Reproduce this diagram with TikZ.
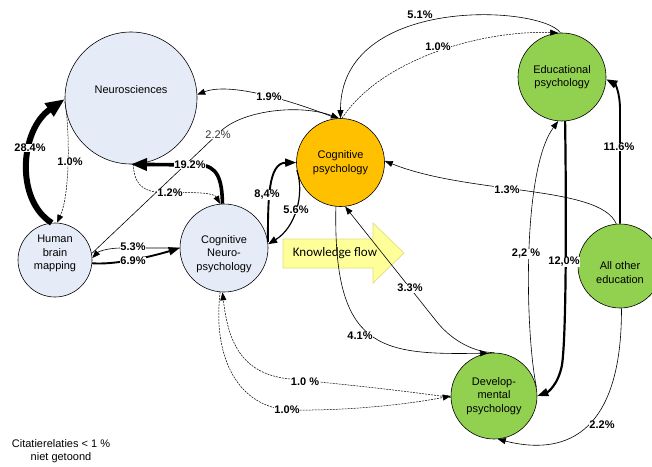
\documentclass[tikz,border=0pt]{standalone}
\usepackage{fontspec}
\setmainfont{Liberation Sans}
\newfontfamily\kffont{Carlito}
\usetikzlibrary{arrows.meta}
\definecolor{neuroblue}{RGB}{230,236,247}
\definecolor{cogorange}{RGB}{255,192,0}
\definecolor{edugreen}{RGB}{146,208,80}
\definecolor{flowfill}{RGB}{255,255,153}
\definecolor{flowedge}{RGB}{222,222,130}
\begin{document}
\begin{tikzpicture}[x=1pt,y=-1pt,
  field/.style={circle, draw=black, line width=0.6pt, inner sep=0pt},
  fieldtext/.style={font=\fontsize{11}{13.4}\selectfont, align=center, inner sep=0pt},
  neurofield/.style={field, fill=neuroblue},
  cogfield/.style={field, fill=cogorange},
  edufield/.style={field, fill=edugreen},
  cite/.style={draw, line width=0.6pt, -{Triangle[length=8pt,width=6pt]}},
  weak/.style={cite, line width=0.5pt, dash pattern=on 2pt off 1pt},
  medium/.style={draw, line width=1.2pt, -{Triangle[length=9pt,width=7pt]}},
  strong/.style={draw, line width=1.9pt, -{Triangle[length=11pt,width=8pt]}},
  heavy/.style={draw, line width=3.6pt, -{Triangle[length=16pt,width=12pt]}},
  huge/.style={draw, line width=6pt, -{Triangle[length=19pt,width=15pt]}},
  pct/.style={font=\bfseries\fontsize{11}{13}\selectfont, fill=white, inner sep=0.6pt},
  pctlight/.style={font=\fontsize{11}{13}\selectfont, text=black!80, fill=white, inner sep=0.6pt},
]
\path[use as bounding box] (0,0) rectangle (652,466);
\clip (0,0) rectangle (652,466);

% research fields
\node[neurofield, minimum size=132pt,
  label={[fieldtext, yshift=8.5pt]center:Neurosciences}] (neuro) at (131,98) {};
\node[neurofield, minimum size=74pt,
  label={[fieldtext, yshift=6.5pt]center:Human\\brain\\mapping}] (hbm) at (55,260) {};
\node[neurofield, minimum size=88pt,
  label={[fieldtext, yshift=-6pt]center:Cognitive\\Neuro-\\psychology}] (cnp) at (224,248) {};
\node[cogfield, minimum size=88pt,
  label={[fieldtext]center:Cognitive\\psychology}] (cog) at (340.5,162.5) {};
\node[edufield, minimum size=88pt,
  label={[fieldtext]center:Educational\\psychology}] (edu) at (562,77) {};
\node[edufield, minimum size=84pt,
  label={[fieldtext, yshift=-6.5pt]center:All other\\education}] (allo) at (620,266) {};
\node[edufield, minimum size=86pt,
  label={[fieldtext]center:Develop-\\mental\\psychology}] (dev) at (494,396) {};

% knowledge flow arrow
\filldraw[fill=flowfill, draw=flowedge, line width=0.7pt]
  (283,239) -- (373,239) -- (373,223) -- (404,253) -- (373,283) -- (373,268) -- (283,268) -- cycle;
\node[font=\kffont\fontsize{13}{15}\selectfont] (kflow) at (335,253) {Knowledge flow};

% citation relations
\draw[huge] (hbm.95) .. controls (15,200) and (20,130) .. (neuro.181);
\draw[weak] (neuro.183) .. controls (70,130) and (70,195) .. (hbm.87);
\draw[heavy] (cnp.92) .. controls (222,180) and (218,165) .. (198,165) -- (neuro.270);
\draw[weak] (neuro.272) .. controls (134,190) and (150,193) .. (170,193)
  .. controls (198,192) and (214,193) .. (cnp.95);
\draw[cite] (hbm.10) -- (222,130) .. controls (245,110) and (300,104) .. (cog.92);
\draw[cite] (cog.95) .. controls (290,100) and (230,82) .. (neuro.3);
\draw[strong] (cnp.8) .. controls (268,200) and (268,163) .. (cog.180);
\draw[medium] (cog.190) .. controls (305,195) and (295,228) .. (cnp.5);
\draw[strong] (hbm.-5) .. controls (115,265) and (150,257) .. (cnp.180);
\draw[cite] (cnp.180) -- (122,248) .. controls (106,248) and (98,252) .. (hbm.3);
\draw[cite] (edu.92) .. controls (540,5) and (340,-5) .. (cog.90);
\draw[weak] (cog.88) .. controls (380,60) and (480,30) .. (edu.95);
\draw[cite] (allo.95) .. controls (600,185) and (470,195) .. (cog.2);
\draw[strong] (allo.90) -- (620,110) .. controls (620,92) and (615,84) .. (edu.-3);
\draw[strong, line width=2.2pt] (edu.-86) .. controls (566,180) and (567,330) .. (562,365)
  .. controls (558,385) and (548,392) .. (dev.0);
\draw[cite] (dev.12) .. controls (525,330) and (522,170) .. (edu.-95);
\draw[cite] (cog.264) .. controls (333,350) and (380,355) .. (dev.98);
\draw[cite] (dev.90) .. controls (470,352) and (449,337) .. (437,322) -- (cog.-84);
\draw[weak] (dev.182) .. controls (400,390) and (330,383) .. (290,379)
  .. controls (240,374) and (228,340) .. (cnp.268);
\draw[weak] (cnp.265) .. controls (212,360) and (240,408) .. (290,410)
  .. controls (360,411) and (420,402) .. (dev.180);
\draw[cite] (allo.-88) .. controls (622,440) and (560,455) .. (dev.-85);

% percentages
\node[pct] (l284) at (30,148) {28.4\%};
\node[pct] (l10a) at (70,162) {1.0\%};
\node[pct] (l192) at (190,165) {19.2\%};
\node[pct] (l12) at (170,193) {1.2\%};
\node[pctlight] (l22a) at (218,135) {2.2\%};
\node[pct] (l19) at (269,97) {1.9\%};
\node[pct] (l84) at (267,195) {8,4\%};
\node[pct] (l56) at (296,210) {5.6\%};
\node[pct] (l53) at (133,247) {5.3\%};
\node[pct] (l69) at (133,261) {6.9\%};
\node[pct] (l51) at (420,15) {5.1\%};
\node[pct] (l10b) at (438,47) {1.0\%};
\node[pct] (l13) at (507,190) {1.3\%};
\node[pct] (l116) at (619,147) {11.6\%};
\node[pct] (l120) at (564,262) {12,0\%};
\node[pct] (l22b) at (526,254) {2,2 \%};
\node[pct] (l41) at (360,336) {4.1\%};
\node[pct] (l33) at (410,288) {3.3\%};
\node[pct] (l10c) at (305,382) {1.0 \%};
\node[pct] (l10d) at (287,410) {1.0\%};
\node[pct] (l22c) at (602,425) {2.2\%};

% note
\node[fieldtext] (note) at (61,451) {Citatierelaties < 1 \%\\niet getoond};
\end{tikzpicture}
\end{document}
